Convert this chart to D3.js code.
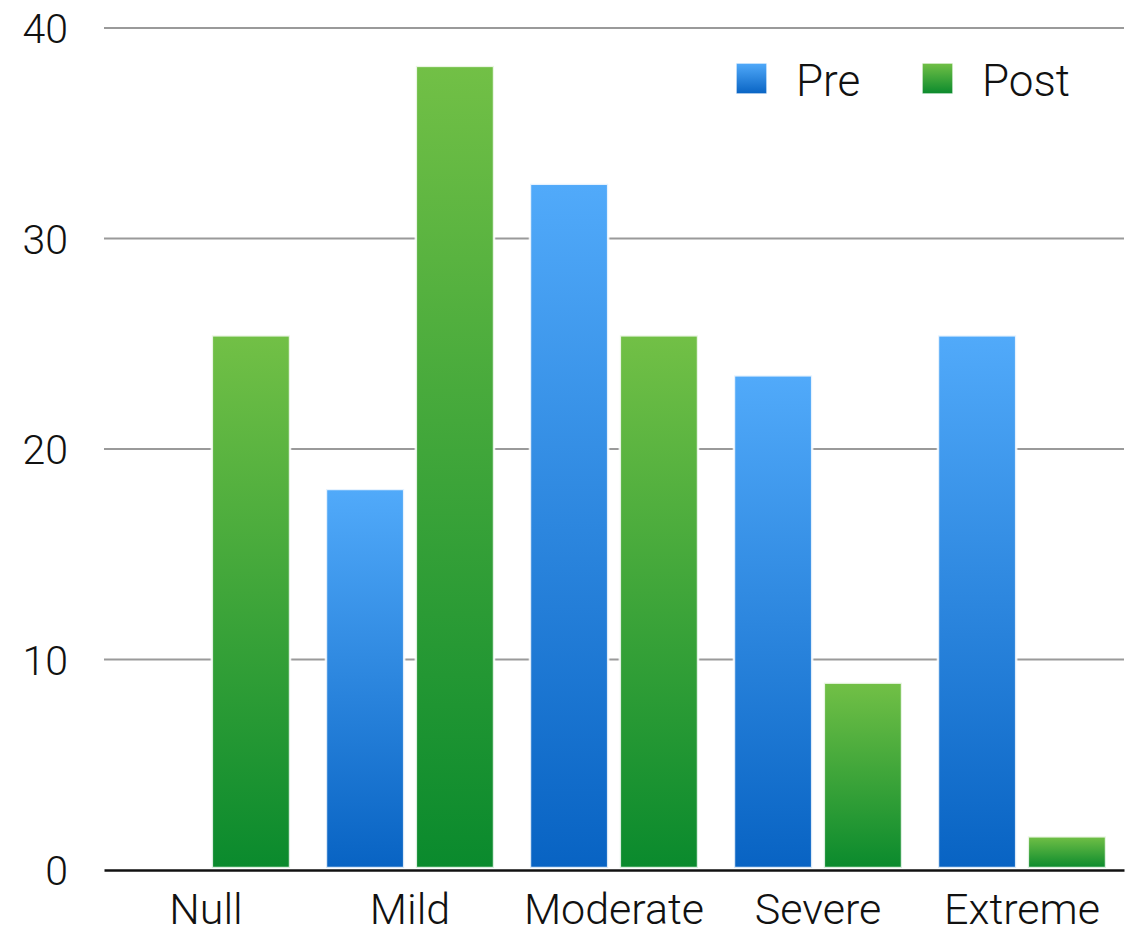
<!DOCTYPE html>
<html>
<head>
<meta charset="utf-8">
<script src="https://cdn.jsdelivr.net/npm/d3@7"></script>
<style>
  html, body { margin: 0; padding: 0; background: #fff; }
  svg { display: block; }
  text { font-family: Roboto, "Helvetica Neue", Arial, sans-serif; font-weight: 300; fill: #111; }
</style>
</head>
<body>
<svg id="chart" width="1129" height="935"></svg>
<script>
// Chart data
const categories = ["Null", "Mild", "Moderate", "Severe", "Extreme"];
const seriesNames = ["Pre", "Post"];
const preValues  = [0, 18.1, 32.6, 23.5, 25.4];
const postValues = [25.4, 38.2, 25.4, 8.9, 1.6];
const yTicks = [0, 10, 20, 30, 40];

const FONT = "Roboto, 'Helvetica Neue', Arial, sans-serif";

const svg = d3.select("#chart");
const margin = { top: 28, right: 5, bottom: 65, left: 104 };
const width = 1129, height = 935;
const plotW = width - margin.left - margin.right;
const plotH = height - margin.top - margin.bottom;

// Vertical gradients for the bar fills
const defs = svg.append("defs");
const gradients = {
  Pre:  ["#51aafa", "#0863c3"],
  Post: ["#72c046", "#0a8a2d"]
};
Object.entries(gradients).forEach(([name, [top, bottom]]) => {
  const g = defs.append("linearGradient")
    .attr("id", "grad-" + name)
    .attr("x1", 0).attr("y1", 0).attr("x2", 0).attr("y2", 1);
  g.append("stop").attr("offset", "0%").attr("stop-color", top);
  g.append("stop").attr("offset", "100%").attr("stop-color", bottom);
});

const g = svg.append("g").attr("transform", `translate(${margin.left},${margin.top})`);

const x0 = d3.scaleBand().domain(categories).range([0, plotW]).paddingInner(0).paddingOuter(0);
const x1 = d3.scaleBand().domain(seriesNames).range([0, x0.bandwidth()]).paddingInner(0.13).paddingOuter(0.2);
const y = d3.scaleLinear().domain([0, 40]).range([plotH, 0]);

// Horizontal gridlines
g.append("g")
  .selectAll("line")
  .data(yTicks.filter(t => t !== 0))
  .join("line")
  .attr("x1", 0).attr("x2", plotW)
  .attr("y1", d => y(d)).attr("y2", d => y(d))
  .attr("stroke", "#9a9a9a").attr("stroke-width", 2);

// Y axis labels
const yAxis = g.append("g")
  .call(d3.axisLeft(y).tickValues(yTicks).tickSize(0).tickPadding(36).tickFormat(d3.format("d")));
yAxis.select(".domain").remove();
yAxis.selectAll("text")
  .attr("font-size", 41)
  .attr("dy", "0.36em")
  .style("font-family", FONT)
  .style("font-weight", 300)
  .attr("fill", "#111");

// Bars
const rows = categories.map((c, i) => ({ cat: c, vals: [
  { key: "Pre", value: preValues[i] },
  { key: "Post", value: postValues[i] }
]}));

const groups = g.append("g").selectAll("g")
  .data(rows)
  .join("g")
  .attr("transform", d => `translate(${x0(d.cat)},0)`);

groups.selectAll("rect")
  .data(d => d.vals.filter(v => v.value > 0))
  .join("rect")
  .attr("x", d => x1(d.key))
  .attr("width", x1.bandwidth())
  .attr("y", d => y(d.value))
  .attr("height", d => y(0) - y(d.value) - 2)
  .attr("fill", d => `url(#grad-${d.key})`)
  .attr("stroke", "rgba(255,255,255,0.85)")
  .attr("stroke-width", 2.5);

// Baseline (x axis)
const xAxis = g.append("g")
  .attr("transform", `translate(0,${plotH})`)
  .call(d3.axisBottom(x0).tickSize(0).tickPadding(0));
xAxis.select(".domain").attr("stroke", "#111").attr("stroke-width", 2.5);
xAxis.selectAll("text")
  .attr("y", 54)
  .attr("dy", null)
  .attr("font-size", 43)
  .style("font-family", FONT)
  .style("font-weight", 300)
  .attr("fill", "#111");

// Legend
const legend = svg.append("g").attr("transform", "translate(736,63)");
const legendItems = legend.selectAll("g")
  .data(seriesNames)
  .join("g")
  .attr("transform", (d, i) => `translate(${i * 186},0)`);
legendItems.append("rect")
  .attr("width", 31).attr("height", 31)
  .attr("fill", d => `url(#grad-${d})`)
  .attr("stroke", "rgba(255,255,255,0.85)").attr("stroke-width", 1.5);
legendItems.append("text")
  .attr("x", 60).attr("y", 33)
  .attr("font-size", 44)
  .style("font-family", FONT)
  .text(d => d);
</script>
</body>
</html>
